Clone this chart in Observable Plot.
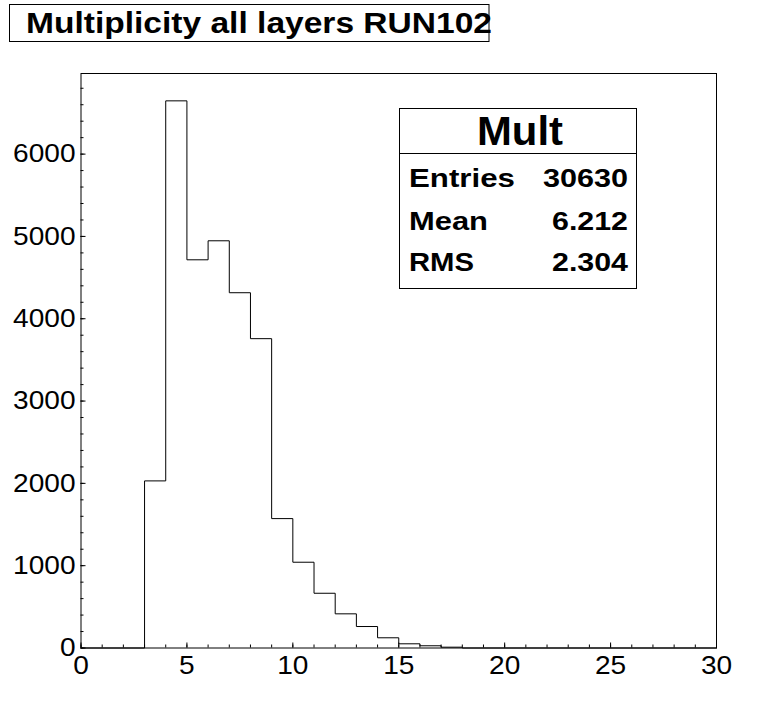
<!DOCTYPE html>
<html><head><meta charset="utf-8">
<script src="https://cdn.jsdelivr.net/npm/d3@7"></script>
<script src="https://cdn.jsdelivr.net/npm/@observablehq/plot@0.6"></script>
<style>
html,body{margin:0;padding:0;background:#fff;}
#chart{position:relative;width:784px;height:715px;}
svg{display:block}
</style></head><body><div id="chart"></div>
<script>
// ---- data ----
const title = "Multiplicity all layers RUN102";
const statsName = "Mult";
const statsLabels = ["Entries", "Mean", "RMS"];
const statsValues = ["30630", "6.212", "2.304"];
const binLow = [3, 4, 5, 6, 7, 8, 9, 10, 11, 12, 13, 14, 15, 16, 17];
const counts = [2030, 6647, 4716, 4947, 4316, 3758, 1572, 1042, 665, 415, 261, 124, 51, 27, 10];
const binWidth = 1;
const xDomain = [0, 30];
const xTicks = [0, 5, 10, 15, 20, 25, 30];
const yTicks = [0, 1000, 2000, 3000, 4000, 5000, 6000];

// ---- derived ----
const yMax = d3.max(counts) * 1.05;
const xMinor = d3.range(xDomain[0], xDomain[1] + 1, 1);
const yMinor = d3.range(0, yMax, 200);
const pts = [{x: xDomain[0], y: 0}]
  .concat(binLow.map((b, i) => ({x: b, y: counts[i]})))
  .concat([{x: binLow[binLow.length - 1] + binWidth, y: 0}, {x: xDomain[1], y: 0}]);

const font = "'Liberation Sans', Arial, Helvetica, sans-serif";

const plot = Plot.plot({
  width: 784, height: 715,
  marginLeft: 80.5, marginRight: 68, marginTop: 73, marginBottom: 67.5,
  x: {domain: xDomain},
  y: {domain: [0, yMax]},
  style: {fontFamily: font, fontSize: "26px", color: "black", background: "white", overflow: "visible"},
  marks: [
    Plot.line(pts, {x: "x", y: "y", curve: "step-after", stroke: "black", strokeWidth: 1}),
    Plot.ruleX(xMinor, {x: d => d, y1: () => 0, y2: () => 0, insetTop: -3, stroke: "black", strokeWidth: 1}),
    Plot.ruleX(xTicks, {x: d => d, y1: () => 0, y2: () => 0, insetTop: -5, stroke: "black", strokeWidth: 1}),
    Plot.ruleY(yMinor, {y: d => d, x1: () => xDomain[0], x2: () => xDomain[0], insetRight: -3, stroke: "black", strokeWidth: 1}),
    Plot.ruleY(yTicks, {y: d => d, x1: () => xDomain[0], x2: () => xDomain[0], insetRight: -5, stroke: "black", strokeWidth: 1}),
    Plot.axisX({ticks: xTicks, tickSize: 0, tickPadding: 8, fontSize: 26, label: null, tickFormat: d => String(d)}),
    Plot.axisY({ticks: yTicks, tickSize: 0, tickPadding: 5.5, fontSize: 26, label: null, tickFormat: d => String(d)}),
    Plot.frame({stroke: "black", strokeWidth: 1})
  ]
});
document.getElementById("chart").appendChild(plot);

// stretch tick labels horizontally (reference text is wider than Arial)
d3.select(plot).selectAll("g[aria-label$='tick label'] text").each(function() {
  const w = this.getComputedTextLength();
  this.setAttribute("textLength", w * 1.08);
  this.setAttribute("lengthAdjust", "spacingAndGlyphs");
});

// ---- annotations: title box and stats box ----
const svg = d3.select(plot);
const ann = svg.append("g").attr("font-family", font).attr("font-weight", "bold")
  .attr("fill", "black").attr("text-anchor", "start");

ann.append("rect").attr("x", 9.5).attr("y", 4.5).attr("width", 479.5).attr("height", 37)
  .attr("fill", "white").attr("stroke", "black");
ann.append("text").attr("x", 26).attr("y", 32.5).attr("font-size", 29).attr("text-anchor", "start")
  .attr("textLength", 466).attr("lengthAdjust", "spacingAndGlyphs").text(title);

ann.append("rect").attr("x", 399.5).attr("y", 108.5).attr("width", 237).attr("height", 180)
  .attr("fill", "white").attr("stroke", "black");
ann.append("line").attr("x1", 399.5).attr("x2", 636.5).attr("y1", 153.5).attr("y2", 153.5).attr("stroke", "black");
ann.append("text").attr("x", 477).attr("y", 145).attr("font-size", 40).attr("text-anchor", "start")
  .attr("textLength", 86).attr("lengthAdjust", "spacingAndGlyphs").text(statsName);

const rowY = [187, 230, 271];
const labW = [106, 79, 65];
const valW = [85, 76, 76];
statsLabels.forEach((l, i) => {
  ann.append("text").attr("x", 409).attr("y", rowY[i]).attr("font-size", 26).attr("text-anchor", "start")
    .attr("textLength", labW[i]).attr("lengthAdjust", "spacingAndGlyphs").text(l);
  ann.append("text").attr("x", 628 - valW[i]).attr("y", rowY[i]).attr("font-size", 26).attr("text-anchor", "start")
    .attr("textLength", valW[i]).attr("lengthAdjust", "spacingAndGlyphs").text(statsValues[i]);
});
</script>
</body></html>
